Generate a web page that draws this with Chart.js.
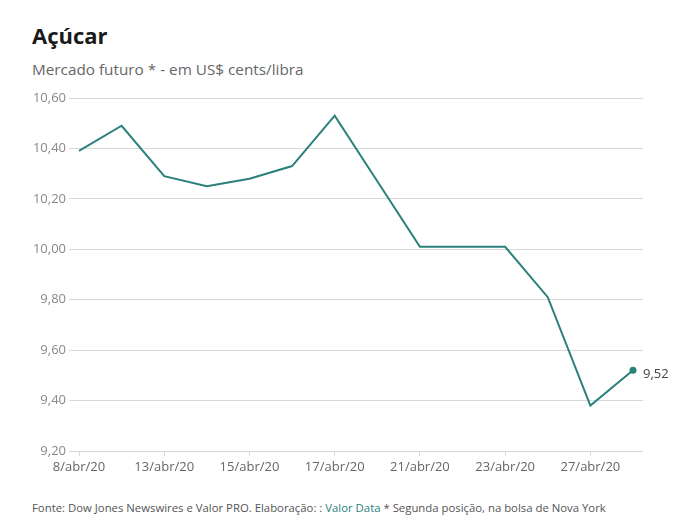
<!DOCTYPE html>
<html>
<head>
<meta charset="utf-8">
<script src="https://cdn.jsdelivr.net/npm/chart.js@4/dist/chart.umd.min.js"></script>
<style>
  html, body { margin:0; padding:0; background:#fff; width:678px; height:524px; overflow:hidden; }
  body { position:relative; font-family:"Open Sans", sans-serif; }
  #title { position:absolute; left:32px; top:20px; font-size:22px; font-weight:700; color:#1a1a1a; margin:0; line-height:normal; }
  #subtitle { position:absolute; left:32px; top:58.5px; font-size:15.3px; color:#666; margin:0; line-height:normal; }
  #wrap { position:absolute; left:0; top:80px; width:678px; height:420px; }
  #footer { position:absolute; left:32px; top:500px; font-size:11.35px; color:#555; margin:0; white-space:nowrap; line-height:normal; }
  #footer span { color:#2b7f7b; }
</style>
</head>
<body>
<div id="title">Açúcar</div>
<div id="subtitle">Mercado futuro * - em US$ cents/libra</div>
<div id="wrap"><canvas id="c" width="678" height="420"></canvas></div>
<div id="footer">Fonte: Dow Jones Newswires e Valor PRO. Elaboração: : <span>Valor Data</span> * Segunda posição, na bolsa de Nova York</div>
<script>
const dates = ["8/abr/20","9/abr/20","13/abr/20","14/abr/20","15/abr/20","16/abr/20","17/abr/20","20/abr/20","21/abr/20","22/abr/20","23/abr/20","24/abr/20","27/abr/20","28/abr/20"];
const prices = [10.39, 10.49, 10.29, 10.25, 10.28, 10.33, 10.53, 10.27, 10.01, 10.01, 10.01, 9.81, 9.38, 9.52];
const yTicks = [9.2, 9.4, 9.6, 9.8, 10.0, 10.2, 10.4, 10.6];
const xTickIdx = [0, 2, 4, 6, 8, 10, 12];

const lineColor = "#2b807c";
const fmt = v => v.toFixed(2).replace(".", ",");

const points = prices.map((v, i) => ({ x: i, y: v }));

const lastLabel = {
  id: "lastLabel",
  afterDatasetsDraw(chart) {
    const meta = chart.getDatasetMeta(0);
    const el = meta.data[meta.data.length - 1];
    const ctx = chart.ctx;
    ctx.save();
    ctx.font = "13px 'Open Sans'";
    ctx.fillStyle = "#444";
    ctx.textAlign = "left";
    ctx.textBaseline = "middle";
    ctx.fillText(fmt(prices[prices.length - 1]), el.x + 10, el.y + 4);
    ctx.restore();
  }
};

new Chart(document.getElementById("c"), {
  type: "line",
  data: {
    datasets: [{
      data: points,
      borderColor: lineColor,
      backgroundColor: lineColor,
      borderWidth: 2,
      tension: 0,
      pointRadius: points.map((p, i) => i === points.length - 1 ? 3.5 : 0),
      pointHoverRadius: 0,
      pointBorderWidth: 0
    }]
  },
  options: {
    responsive: false,
    animation: false,
    devicePixelRatio: 1,
    layout: { padding: { left: 0, right: 35, top: 18, bottom: 19 } },
    plugins: { legend: { display: false }, tooltip: { enabled: false } },
    scales: {
      x: {
        type: "linear",
        min: -0.235,
        max: 13.235,
        afterBuildTicks(scale) { scale.ticks = xTickIdx.map(v => ({ value: v })); },
        afterFit(scale) { scale.height = 30; },
        ticks: {
          autoSkip: false,
          maxRotation: 0,
          padding: 3,
          color: "#666",
          font: { family: "'Open Sans'", size: 13 },
          callback: v => dates[v]
        },
        grid: { drawOnChartArea: false, drawTicks: true, tickLength: 5, color: "#d9d9d9" },
        border: { display: false }
      },
      y: {
        min: 9.2,
        max: 10.6,
        afterBuildTicks(scale) { scale.ticks = yTicks.map(v => ({ value: v })); },
        afterFit(scale) { scale.width = 69; },
        ticks: {
          padding: 3,
          color: "#888",
          font: { family: "'Open Sans'", size: 13 },
          callback: v => fmt(v)
        },
        grid: { drawTicks: false, color: "#d9d9d9", lineWidth: 1 },
        border: { display: false }
      }
    }
  },
  plugins: [lastLabel]
});
</script>
</body>
</html>
